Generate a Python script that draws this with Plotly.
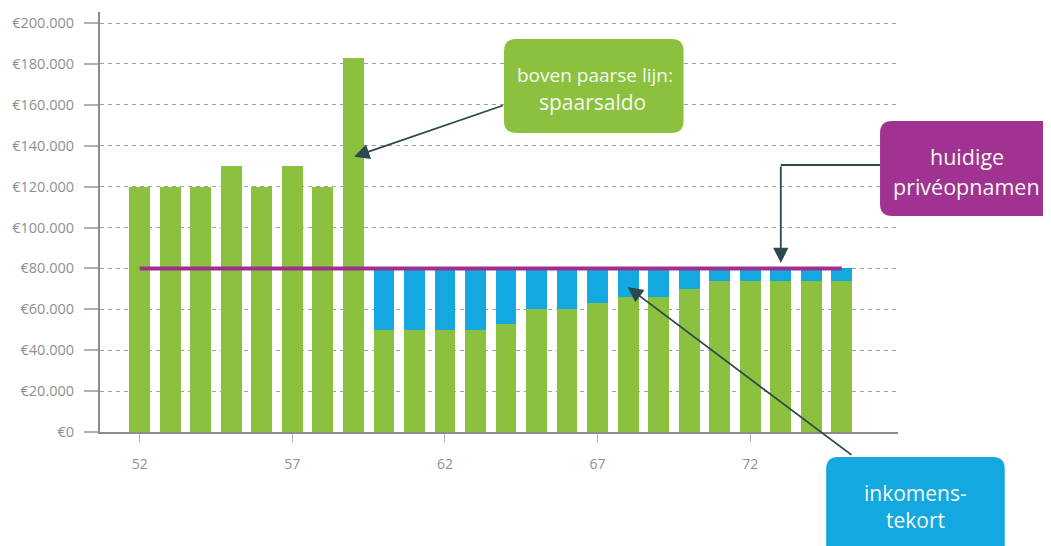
import plotly.graph_objects as go

# ---- data ----
years = [52, 53, 54, 55, 56, 57, 58, 59, 60, 61, 62, 63,
         64, 65, 66, 67, 68, 69, 70, 71, 72, 73, 74, 75]
inkomen = [120000, 120000, 120000, 130000, 120000, 130000, 120000, 183000,
           50000, 50000, 50000, 50000, 53000, 60000, 60000, 63000,
           66000, 66000, 70000, 74000, 74000, 74000, 74000, 74000]
tekort = [0, 0, 0, 0, 0, 0, 0, 0,
          30000, 30000, 30000, 30000, 27000, 20000, 20000, 17000,
          14000, 14000, 10000, 6000, 6000, 6000, 6000, 6000]
opnamen_years = [52, 75]
opnamen_values = [80000, 80000]
y_tickvals = [0, 20000, 40000, 60000, 80000, 100000, 120000, 140000, 160000, 180000, 200000]
y_ticktext = ["€0", "€20.000", "€40.000", "€60.000", "€80.000", "€100.000",
              "€120.000", "€140.000", "€160.000", "€180.000", "€200.000"]
x_tickvals = [52, 57, 62, 67, 72]

GREEN = "#8cc13f"
BLUE = "#13a8e0"
PURPLE_LINE = "#a0308f"
PURPLE_BOX = "#a03292"
ARROW = "#2c494e"
FONT = "Open Sans"

# page body has an 8px margin: the figure starts at screen (8, 8)
OX, OY = 8, 8
SCREEN_W, SCREEN_H = 1051, 546
W, H = SCREEN_W - OX, SCREEN_H - OY
# plot area in screen coordinates
PL, PR, PT, PB = 98, 898, 12, 432
ML, MR, MT, MB = PL - OX, SCREEN_W - PR, PT - OY, SCREEN_H - PB
PW = PR - PL
PH = PB - PT


def px(x):
    return (x - PL) / PW


def py(y):
    return (PB - y) / PH


def rrect(x0, y0, x1, y1, r):
    rx = r / PW
    ry = r / PH
    X0, X1 = px(x0), px(x1)
    Y0, Y1 = py(y0), py(y1)  # Y0 top (larger), Y1 bottom
    return (f"M{X0+rx},{Y0} L{X1-rx},{Y0} Q{X1},{Y0} {X1},{Y0-ry} "
            f"L{X1},{Y1+ry} Q{X1},{Y1} {X1-rx},{Y1} L{X0+rx},{Y1} "
            f"Q{X0},{Y1} {X0},{Y1+ry} L{X0},{Y0-ry} Q{X0},{Y0} {X0+rx},{Y0} Z")


fig = go.Figure()
fig.add_trace(go.Bar(x=years, y=inkomen, marker=dict(color=GREEN, line=dict(width=0)),
                     name="inkomen"))
fig.add_trace(go.Bar(x=years, y=tekort, marker=dict(color=BLUE, line=dict(width=0)),
                     name="inkomenstekort"))
fig.add_trace(go.Scatter(x=opnamen_years, y=opnamen_values, mode="lines",
                         line=dict(color=PURPLE_LINE, width=4), name="privéopnamen"))

fig.update_layout(
    width=W, height=H,
    margin=dict(l=ML, r=MR, t=MT, b=MB, pad=0),
    paper_bgcolor="white", plot_bgcolor="white",
    barmode="stack", bargap=0.32,
    showlegend=False,
    font=dict(family=FONT, color="#8f8f8f", size=14),
)
fig.update_xaxes(
    range=[50.7, 76.84], tickvals=x_tickvals, showgrid=False, zeroline=False,
    showline=True, linecolor="#8c8c8c", linewidth=2,
    ticks="outside", ticklen=8, tickwidth=1, tickcolor="#b0b0b0",
    tickfont=dict(family=FONT, size=14, color="#8f8f8f"),
    ticklabelstandoff=10,
)
fig.update_yaxes(
    range=[0, 205400], tickvals=y_tickvals, ticktext=y_ticktext,
    showgrid=True, gridcolor="#a0a0a0", gridwidth=1, griddash="4px,4px",
    zeroline=False,
    showline=True, linecolor="#8c8c8c", linewidth=2,
    ticks="outside", ticklen=14, tickwidth=1.5, tickcolor="#b0b0b0",
    tickfont=dict(family=FONT, size=14.5, color="#8f8f8f"),
    ticklabelstandoff=7,
)

# boxes
fig.add_shape(type="path", xref="paper", yref="paper", path=rrect(503, 39, 683, 133, 12),
              fillcolor=GREEN, line=dict(width=0))
fig.add_shape(type="path", xref="paper", yref="paper", path=rrect(880, 121, 1070, 216, 12),
              fillcolor=PURPLE_BOX, line=dict(width=0))
fig.add_shape(type="path", xref="paper", yref="paper", path=rrect(826, 457, 1005, 570, 12),
              fillcolor=BLUE, line=dict(width=0))

# box texts
def label(x, y, text, size):
    fig.add_annotation(x=px(x), y=py(y), xref="paper", yref="paper", text=text,
                       showarrow=False, xanchor="center", yanchor="middle",
                       font=dict(family=FONT, size=size, color="#f4f8ee"))

label(594, 75, "boven paarse lijn:", 19)
label(592, 101.5, "spaarsaldo", 21)
label(967, 156.5, "huidige", 21.5)
label(967, 186.5, "privéopnamen", 21.5)
label(915.5, 493, "inkomens-", 21)
label(915.5, 520, "tekort", 21)

# arrows
def arrow(tipx, tipy, tailx, taily):
    fig.add_annotation(x=px(tipx), y=py(tipy), xref="paper", yref="paper",
                       ax=tailx - tipx, ay=taily - tipy, axref="pixel", ayref="pixel",
                       text="", showarrow=True, arrowhead=2, arrowsize=1.7,
                       arrowwidth=1.8, arrowcolor=ARROW)

arrow(352.7, 156.7, 503, 105)
arrow(627, 287, 852.3, 456)
fig.add_shape(type="line", xref="paper", yref="paper",
              x0=px(880), y0=py(165), x1=px(780.5), y1=py(165),
              line=dict(color=ARROW, width=1.8))
arrow(780.5, 263, 780.5, 165)

fig.write_html("out.html")
